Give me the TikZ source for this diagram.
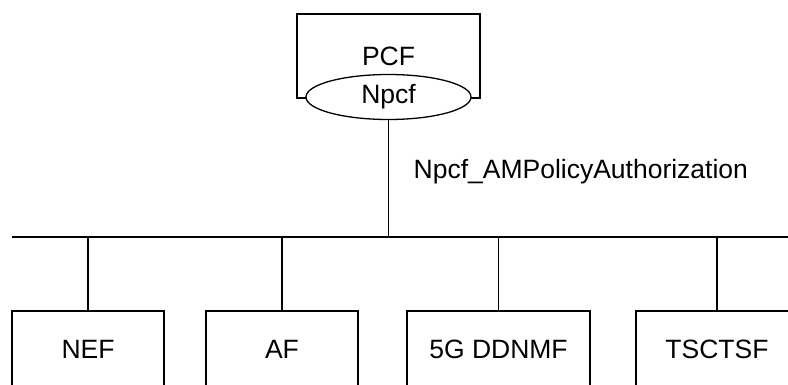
\documentclass[tikz,border=0pt]{standalone}
\usepackage{fontspec}
\setmainfont{Liberation Sans}
\usetikzlibrary{shapes.geometric}
\tikzset{t/.style={font=\fontsize{26.5}{26.5}\selectfont}}
\tikzset{nf/.style={draw, rectangle, minimum height=76pt, inner sep=0pt, t}}

\begin{document}
\begin{tikzpicture}[x=1pt, y=-1pt, line width=1.3pt]
        \useasboundingbox (0,0) rectangle (788,385);
        \clip (0,0) rectangle (788,385);
          \node [nf, minimum width=183pt, minimum height=84pt] (pcf) at (388.5, 56) {PCF};
          \node [ellipse, draw, fill=white, minimum width=165pt, minimum height=45pt, inner sep=0pt, t] (npcf) at (388.5, 97) {Npcf};
          \coordinate (busl) at (12, 237);
          \coordinate (busr) at (788, 237);
          \draw (busl) -- (busr);
          \draw (npcf.south) -- (npcf.south |- busl);
          \node [t, anchor=west, inner sep=0pt] (iface) at (413, 172) {Npcf\_AMPolicyAuthorization};
          \node [nf, minimum width=152pt] (nef) at (88, 349) {NEF};
          \node [nf, minimum width=152pt] (af) at (282, 349) {AF};
          \node [nf, minimum width=183pt] (ddnmf) at (498.5, 349) {5G DDNMF};
          \node [nf, minimum width=162pt] (tsctsf) at (717, 349) {TSCTSF};
          \draw (nef.north) -- (nef.north |- busl);
          \draw (af.north) -- (af.north |- busl);
          \draw (ddnmf.north) -- (ddnmf.north |- busl);
          \draw (tsctsf.north) -- (tsctsf.north |- busl);
      \end{tikzpicture}
\end{document}
